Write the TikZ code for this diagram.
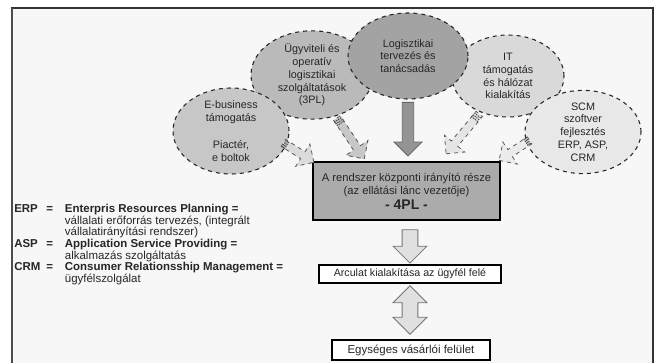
\documentclass[tikz,border=0pt]{standalone}
\usepackage{fontspec}
\setmainfont{Liberation Sans}
\usetikzlibrary{shapes.geometric,shapes.arrows,calc}

\definecolor{framebg}{gray}{0.97}
\definecolor{ebizfill}{gray}{0.78}
\definecolor{tplfill}{gray}{0.73}
\definecolor{logifill}{gray}{0.64}
\definecolor{itfill}{gray}{0.85}
\definecolor{scmfill}{gray}{0.91}
\definecolor{corefill}{gray}{0.67}
\definecolor{inkgray}{gray}{0.15}

\tikzset{
  bubble/.style={ellipse, draw=inkgray, dashed, line width=0.8pt, align=center,
    inner sep=0pt, text=inkgray, font=\fontsize{8.1}{9.6}\selectfont},
  mainbox/.style={rectangle, draw=black, line width=1.2pt, align=center,
    inner sep=0pt, text=inkgray},
  feedarrow/.style={single arrow, draw=black!65, dashed, line width=0.6pt,
    inner xsep=0pt, inner ysep=2.8pt, single arrow head extend=6.8pt},
  flowarrow/.style={single arrow, draw=black!55, fill=black!12, line width=0.6pt,
    inner xsep=0pt, inner ysep=5.6pt, single arrow head extend=6.8pt},
  gloss/.style={align=left, inner sep=0pt, text=inkgray,
    font=\fontsize{8.6}{8.1}\selectfont}
}

% block arrow between two points: name, style, from, to
\newcommand\feed[4]{%
  \path let \p1=(#3), \p2=(#4),
    \n1={veclen(\x2-\x1,\y2-\y1)}, \n2={atan2(\y2-\y1,\x2-\x1)} in
    node[#2, minimum height=\n1, rotate=\n2] (#1) at ($(\p1)!0.5!(\p2)$) {};}
% hatch marks at the tail of a block arrow
\newcommand\tailmarks[1]{%
  \foreach \f in {0.07,0.13,0.19}
    \draw[black!75, line width=0.7pt, dash pattern=on 1pt off 0.7pt]
      ($(#1.before tail)!\f!(#1.after head)$) -- ($(#1.after tail)!\f!(#1.before head)$);}

\begin{document}
\begin{tikzpicture}[x=0.75pt,y=-0.75pt]
\useasboundingbox (0,0) rectangle (654,363);
\draw[draw=black!80, line width=1.1pt, fill=framebg] (12,8) rectangle (653,375);
\draw[black!70, line width=1.6pt] (12,8) -- (12,375);

% the service bubbles
\node[bubble, fill=tplfill, minimum width=91.5pt, minimum height=64.5pt] (tpl) at (312,75)
  {Ügyviteli és\\operatív\\logisztikai\\szolgáltatások\\(3PL)};
\node[bubble, fill=ebizfill, minimum width=87pt, minimum height=64.5pt] (ebiz) at (231,131)
  {E-business\\támogatás\\[1.3em]Piactér,\\e boltok};
\node[bubble, fill=itfill, minimum width=84pt, minimum height=61.5pt] (it) at (508,76)
  {IT\\támogatás\\és hálózat\\kialakítás};
\node[bubble, fill=scmfill, minimum width=87pt, minimum height=61.5pt] (scm) at (583,132)
  {SCM\\szoftver\\fejlesztés\\ERP, ASP,\\CRM};
\node[bubble, fill=logifill, minimum width=90pt, minimum height=64.5pt] (logi) at (408,56)
  {Logisztikai\\tervezés és\\tanácsadás};

% central box and the two lower boxes
\node[mainbox, fill=corefill, minimum width=140.25pt, minimum height=43.5pt,
  font=\fontsize{8.4}{10}\selectfont] (core) at (406.5,191)
  {A rendszer központi irányító része\\(az ellátási lánc vezetője)\\[1pt]
   {\fontsize{10.5}{11}\selectfont\bfseries - 4PL -}};
\node[mainbox, fill=white, minimum width=136.5pt, minimum height=13.5pt,
  font=\fontsize{8}{9}\selectfont] (face) at (410,274)
  {Arculat kialakítása az ügyfél felé};
\node[mainbox, fill=white, minimum width=118.5pt, minimum height=15pt,
  font=\fontsize{8.6}{9}\selectfont] (shop) at (411,350)
  {Egységes vásárlói felület};

% arrows into the 4PL box
\feed{ebizarr}{feedarrow, fill=black!14}{$(ebiz.center)!0.9!(ebiz.-12)$}{core.north west}
\feed{tplarr}{feedarrow, fill=black!22}{tpl.-60}{$(core.north west)!0.27!(core.north east)+(0,-4)$}
\feed{logiarr}{feedarrow, solid, fill=black!42, draw=black!60, inner ysep=4pt,
  single arrow head extend=6.2pt}{logi.south}{$(core.north)+(1.5,-8)$}
\feed{itarr}{feedarrow, fill=black!10}{it.-127}{$(core.north west)!0.717!(core.north east)+(0,-9)$}
\feed{scmarr}{feedarrow, fill=black!8}{$(scm.center)!0.9!(scm.-172)$}{$(core.north east)+(0,-2)$}
\tailmarks{ebizarr}
\tailmarks{tplarr}
\tailmarks{itarr}
\tailmarks{scmarr}

% arrows below the 4PL box
\feed{downarr}{flowarrow}{$(core.south)+(3.5,5)$}{$(face.north)+(0,-5)$}
\path let \p1=($(face.south)+(0,2)$), \p2=($(shop.north)+(-1,-5)$) in
  node[double arrow, draw=black!55, fill=black!12, line width=0.6pt, inner xsep=0pt,
    inner ysep=5.6pt, double arrow head extend=6.8pt, rotate=-90,
    minimum height={veclen(\x2-\x1,\y2-\y1)}] (bothway) at ($(\p1)!0.5!(\p2)$) {};

% glossary
\node[gloss, anchor=north west] (glossary) at (14,204) {%
  \begin{tabular}{@{}p{24pt}@{}p{14pt}@{}l@{}}
  \textbf{ERP} & \textbf{=} & \textbf{Enterpris Resources Planning =}\\
   & & vállalati erőforrás tervezés, (integrált\\
   & & vállalatirányítási rendszer)\\
  \textbf{ASP} & \textbf{=} & \textbf{Application Service Providing =}\\
   & & alkalmazás szolgáltatás\\
  \textbf{CRM} & \textbf{=} & \textbf{Consumer Relationsship Management =}\\
   & & ügyfélszolgálat
  \end{tabular}};
\end{tikzpicture}
\end{document}
